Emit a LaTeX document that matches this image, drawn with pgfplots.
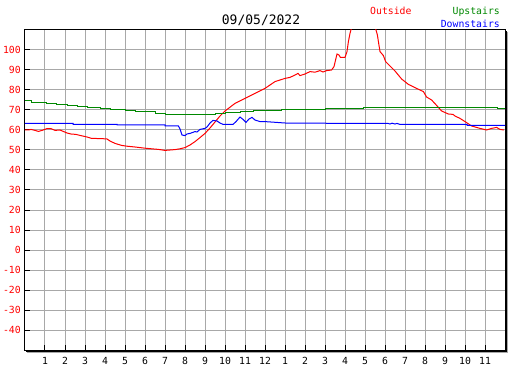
\documentclass[border=0pt]{standalone}
\usepackage{fontspec}
\setmainfont{DejaVu Sans Mono}
\usepackage{pgfplots}
\pgfplotsset{compat=1.18}
\definecolor{gridgray}{RGB}{168,168,168}
\definecolor{upgreen}{RGB}{0,136,0}
\begin{document}
\begin{tikzpicture}[x=1pt,y=1pt]
\begin{axis}[
  at={(25pt,20pt)}, anchor=south west,
  scale only axis, width=480pt, height=320pt,
  xmin=0, xmax=24, ymin=-50, ymax=110,
  xtick={1,2,3,4,5,6,7,8,9,10,11,12,13,14,15,16,17,18,19,20,21,22,23},
  xticklabels={1,2,3,4,5,6,7,8,9,10,11,12,1,2,3,4,5,6,7,8,9,10,11},
  ytick={-40,-30,-20,-10,0,10,20,30,40,50,60,70,80,90,100},
  yticklabels={-40,-30,-20,-10,0,10,20,30,40,50,60,70,80,90,100},
  grid=major,
  grid style={gridgray, line width=1pt},
  axis line style={black, line width=1pt},
  tick align=inside, xtick pos=bottom, ytick pos=left,
  major tick length=5pt,
  tick style={black, line width=1pt},
  yticklabel style={text=red, font=\fontsize{9.8}{10}\selectfont, anchor=east, inner sep=0pt, xshift=-4pt},
  xticklabel style={text=black, font=\fontsize{9.8}{10}\selectfont, anchor=north, inner sep=0pt, yshift=-7pt},
  clip=true,
]
\addplot[red, line width=1pt] coordinates {
(0,60) (0.17,60) (0.3,60.3) (0.5,59.8) (0.67,59.3) (0.85,59.8) (1.1,60.7) (1.3,60.7)
(1.5,59.8) (1.75,60.0) (2.1,58.5) (2.3,58.0) (2.55,57.8) (2.75,57.3) (3.1,56.5) (3.33,55.8)
(3.83,55.7) (4.1,55.5) (4.25,54.5) (4.5,53.3) (4.83,52.3) (5.1,51.9) (5.5,51.5) (6.0,50.9)
(6.67,50.3) (7.0,49.8) (7.5,50.2) (7.75,50.6) (8.0,51.2) (8.25,52.5) (8.5,54.2) (8.75,56.2)
(9.0,58.3) (9.25,61.0) (9.5,64.0) (9.75,67.0) (10.0,69.5) (10.5,73.3) (11.0,75.8) (11.5,78.3)
(12.0,80.8) (12.5,84.2) (13.0,85.8) (13.25,86.3) (13.5,87.5) (13.65,88.3) (13.75,87.2)
(14.0,88.0) (14.25,89.2) (14.5,88.9) (14.75,89.7) (14.9,89.0) (15.08,89.7) (15.33,90)
(15.45,91.7) (15.6,98) (15.7,97.5) (15.77,96.3) (16.0,96.3) (16.1,99.2) (16.17,104.2)
(16.25,108.3) (16.35,112) (16.6,120) (17.3,120) (17.5,112) (17.55,110) (17.62,107.5)
(17.67,104.2) (17.75,99.2) (17.92,97.2) (18.03,94.2) (18.25,92.0) (18.5,89.5) (18.83,85.5)
(19.17,82.8) (19.58,80.8) (19.92,79.2) (20.08,76.5) (20.33,75.0) (20.58,72.3) (20.83,69.5)
(21.17,68.0) (21.4,67.8) (21.5,67.0) (21.75,65.8) (22.08,63.7) (22.33,62.0) (22.75,60.8)
(23.08,60.0) (23.33,60.8) (23.58,61.3) (23.75,60.3) (23.95,60.0)
};
\addplot[upgreen, line width=1pt] coordinates {
(0,74.5) (0.33,74.5) (0.33,73.8) (1.1,73.8) (1.1,73.3) (1.6,73.3) (1.6,72.8) (2.1,72.8)
(2.1,72.3) (2.6,72.3) (2.6,71.8) (3.1,71.8) (3.1,71.3) (3.75,71.3) (3.75,70.8) (4.25,70.8)
(4.25,70.2) (5.0,70.2) (5.0,69.7) (5.5,69.7) (5.5,69.2) (6.5,69.2) (6.5,68.2) (7.0,68.2)
(7.0,67.5) (9.5,67.5) (9.5,68.2) (10.0,68.2) (10.0,68.7) (10.75,68.7) (10.75,69.2)
(11.4,69.2) (11.4,69.7) (12.8,69.7) (12.8,70.2) (15.0,70.2) (15.0,70.8) (16.9,70.8)
(16.9,71.3) (23.6,71.3) (23.6,70.8) (24,70.8)
};
\addplot[blue, line width=1pt] coordinates {
(0,63.3) (2.4,63.3) (2.4,62.8) (4.6,62.8) (4.6,62.5) (7.0,62.5) (7.0,62.0) (7.67,62.0)
(7.75,60.5) (7.85,57.5) (8.0,57.2) (8.1,58.0) (8.25,58.3) (8.5,59.2) (8.6,59.0) (8.75,60.3)
(9.0,60.8) (9.1,61.5) (9.25,63.5) (9.4,64.8) (9.6,64.5) (9.75,63.5) (9.9,62.8) (10.4,62.8)
(10.55,64.2) (10.75,66.5) (10.9,65.3) (11.05,63.8) (11.2,65.5) (11.35,66.3) (11.5,65.0)
(11.75,64.2) (12.0,64.2) (13.0,63.5) (14.0,63.4) (18.15,63.3) (18.25,63.0) (18.35,63.4)
(18.5,63.0) (18.6,63.3) (18.75,62.8) (22.1,62.8) (22.1,62.3) (24,62.3)
};
\end{axis}
% frame shadow
\draw[black, line width=1pt] (26,19) -- (506,19) -- (506,339);
\draw[gridgray, line width=1pt] (27,18) -- (507,18) -- (507,338);
% title and legend
\node[anchor=base, inner sep=0pt, font=\fontsize{13}{14}\selectfont] at (261,345) {09/05/2022};
\node[anchor=base west, inner sep=0pt, text=red, font=\fontsize{9.8}{10}\selectfont] at (370,355) {Outside};
\node[anchor=base east, inner sep=0pt, text=upgreen, font=\fontsize{9.8}{10}\selectfont] at (500,355) {Upstairs};
\node[anchor=base east, inner sep=0pt, text=blue, font=\fontsize{9.8}{10}\selectfont] at (500,342.7) {Downstairs};
\pgfresetboundingbox
\useasboundingbox (0,0) rectangle (527,370);
\end{tikzpicture}
\end{document}
